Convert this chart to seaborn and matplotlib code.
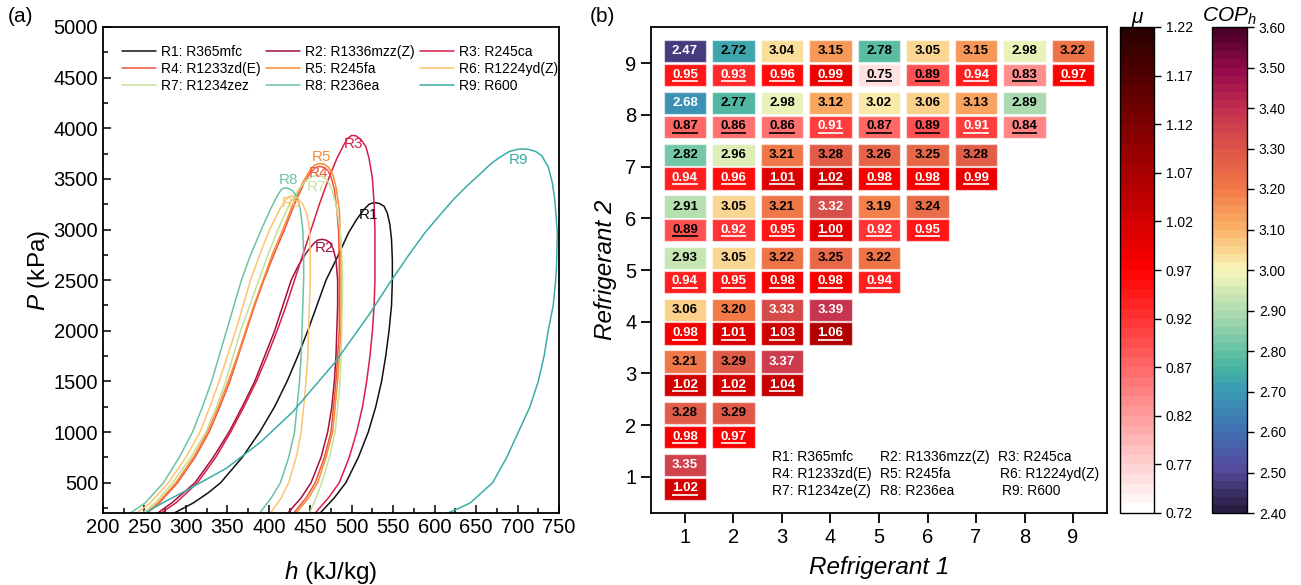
import numpy as np
import pandas as pd
import matplotlib
matplotlib.use("Agg")
import matplotlib.pyplot as plt
import seaborn as sns
from matplotlib.colors import LinearSegmentedColormap, Normalize
from matplotlib.cm import ScalarMappable
from matplotlib.ticker import MultipleLocator

# ---------------- saturation domes: enthalpy h (kJ/kg) vs pressure P (kPa) ----------------
h_r1 = [286, 309, 327, 342, 368, 389, 407, 422, 435, 447, 458, 469, 484, 496, 506, 515, 521, 527,
        533, 539, 543, 546, 548, 549, 549, 548, 545, 541, 536, 529, 520, 508, 493, 479, 462]
p_r1 = [200, 300, 400, 500, 750, 1000, 1250, 1500, 1750, 2000, 2250, 2500, 2750, 2965, 3100, 3200, 3250, 3266,
        3258, 3230, 3160, 3050, 2900, 2700, 2500, 2250, 2000, 1750, 1500, 1250, 1000, 750, 500, 350, 200]

h_r2 = [266, 283, 311, 333, 352, 368, 383, 395, 407, 417, 427, 436, 446, 454, 459, 464,
        469, 474, 478, 481, 483, 483, 482, 481, 479, 476, 471, 463, 451, 439, 423]
p_r2 = [200, 300, 500, 750, 1000, 1250, 1500, 1750, 2000, 2250, 2500, 2650, 2780, 2860, 2895, 2903,
        2895, 2870, 2800, 2700, 2500, 2250, 2000, 1750, 1500, 1250, 1000, 750, 500, 350, 200]

h_r3 = [270, 288, 314, 336, 354, 370, 385, 398, 410, 421, 431, 441, 451, 461, 472, 482, 490, 495, 500,
        505, 511, 517, 521, 525, 527, 528, 528, 527, 525, 522, 518, 513, 506, 497, 485, 472, 456]
p_r3 = [200, 300, 500, 750, 1000, 1250, 1500, 1750, 2000, 2250, 2500, 2750, 3000, 3250, 3500, 3700, 3830, 3900, 3930,
        3925, 3890, 3820, 3700, 3500, 3250, 3000, 2500, 2250, 2000, 1750, 1500, 1250, 1000, 750, 500, 350, 200]

h_r4 = [253, 268, 290, 311, 328, 341, 353, 363, 373, 383, 394, 406, 419, 431, 442, 450, 456, 461,
        466, 471, 475, 479, 482, 484, 485, 485, 483, 481, 478, 475, 467, 456, 445, 430]
p_r4 = [200, 300, 500, 750, 1000, 1250, 1500, 1750, 2000, 2250, 2500, 2750, 3000, 3250, 3450, 3560, 3610, 3623,
        3615, 3585, 3520, 3400, 3200, 3000, 2700, 2000, 1750, 1500, 1250, 1000, 750, 500, 350, 200]

h_r5 = [252, 266, 288, 309, 326, 339, 351, 362, 372, 382, 393, 404, 417, 429, 440, 449, 455, 461,
        467, 472, 477, 481, 485, 486, 487, 487, 485, 483, 480, 477, 469, 459, 448, 433]
p_r5 = [200, 300, 500, 750, 1000, 1250, 1500, 1750, 2000, 2250, 2500, 2750, 3000, 3250, 3450, 3580, 3635, 3651,
        3645, 3615, 3550, 3420, 3200, 3000, 2700, 2000, 1750, 1500, 1250, 1000, 750, 500, 350, 200]

h_r6 = [241, 257, 279, 300, 317, 329, 340, 350, 360, 369, 378, 389, 401, 412, 419, 424,
        429, 435, 441, 446, 449, 450, 450, 448, 447, 445, 442, 439, 433, 424, 415, 402]
p_r6 = [200, 300, 500, 750, 1000, 1250, 1500, 1750, 2000, 2250, 2500, 2750, 3000, 3180, 3280, 3325,
        3330, 3305, 3250, 3150, 3000, 2750, 2500, 2000, 1750, 1500, 1250, 1000, 750, 500, 350, 200]

h_r7 = [248, 263, 284, 306, 324, 337, 348, 357, 366, 377, 388, 399, 411, 425, 436, 446, 453, 458,
        465, 471, 476, 481, 486, 488, 489, 488, 487, 486, 483, 480, 473, 464, 457, 449]
p_r7 = [200, 300, 500, 750, 1000, 1250, 1500, 1750, 2000, 2250, 2500, 2750, 3000, 3250, 3400, 3490, 3525, 3532,
        3520, 3480, 3400, 3250, 3000, 2750, 2500, 2000, 1750, 1500, 1250, 1000, 750, 500, 350, 200]

h_r8 = [233, 251, 273, 292, 308, 320, 331, 340, 349, 358, 367, 378, 391, 402, 410, 415, 419,
        424, 429, 434, 438, 441, 442, 442, 440, 439, 437, 434, 431, 424, 414, 403, 389]
p_r8 = [200, 300, 500, 750, 1000, 1250, 1500, 1750, 2000, 2250, 2500, 2750, 3000, 3200, 3330, 3395, 3410,
        3405, 3380, 3320, 3200, 3000, 2750, 2500, 2000, 1750, 1500, 1250, 1000, 750, 500, 350, 200]

h_r9 = [251, 272, 300, 349, 390, 429, 455, 480, 501, 521, 548, 569, 588, 605, 622, 639, 655, 668, 679, 690, 700, 706,
        714, 722, 729, 737, 742, 745, 748, 747, 746, 743, 737, 732, 725, 715, 701, 687, 670, 643, 630, 616]
p_r9 = [200, 300, 420, 643, 900, 1200, 1450, 1690, 1930, 2160, 2500, 2750, 2965, 3130, 3290, 3430, 3550, 3650, 3715, 3770, 3792, 3796,
        3790, 3770, 3730, 3619, 3460, 3292, 2965, 2638, 2500, 2250, 2000, 1750, 1500, 1250, 1000, 750, 500, 300, 250, 200]

fluid_ids = ["R1", "R2", "R3", "R4", "R5", "R6", "R7", "R8", "R9"]
fluid_names = ["R365mfc", "R1336mzz(Z)", "R245ca", "R1233zd(E)", "R245fa",
               "R1224yd(Z)", "R1234zez", "R236ea", "R600"]

# ---------------- pair results: COP_h (upper) and mu (lower) ----------------
refrigerant_index = [1, 2, 3, 4, 5, 6, 7, 8, 9]

cop_row1 = [3.35]
cop_row2 = [3.28, 3.29]
cop_row3 = [3.21, 3.29, 3.37]
cop_row4 = [3.06, 3.20, 3.33, 3.39]
cop_row5 = [2.93, 3.05, 3.22, 3.25, 3.22]
cop_row6 = [2.91, 3.05, 3.21, 3.32, 3.19, 3.24]
cop_row7 = [2.82, 2.96, 3.21, 3.28, 3.26, 3.25, 3.28]
cop_row8 = [2.68, 2.77, 2.98, 3.12, 3.02, 3.06, 3.13, 2.89]
cop_row9 = [2.47, 2.72, 3.04, 3.15, 2.78, 3.05, 3.15, 2.98, 3.22]

mu_row1 = [1.02]
mu_row2 = [0.98, 0.97]
mu_row3 = [1.02, 1.02, 1.04]
mu_row4 = [0.98, 1.01, 1.03, 1.06]
mu_row5 = [0.94, 0.95, 0.98, 0.98, 0.94]
mu_row6 = [0.89, 0.92, 0.95, 1.00, 0.92, 0.95]
mu_row7 = [0.94, 0.96, 1.01, 1.02, 0.98, 0.98, 0.99]
mu_row8 = [0.87, 0.86, 0.86, 0.91, 0.87, 0.89, 0.91, 0.84]
mu_row9 = [0.95, 0.93, 0.96, 0.99, 0.75, 0.89, 0.94, 0.83, 0.97]

key_lines = [
    ["R1: R365mfc", "R4: R1233zd(E)", "R7: R1234ze(Z)"],
    ["R2: R1336mzz(Z)", "R5: R245fa", "R8: R236ea"],
    ["R3: R245ca", "R6: R1224yd(Z)", "R9: R600"],
]

# ---------------- style ----------------
sns.set_theme(style="ticks", rc={
    "axes.edgecolor": "black", "axes.linewidth": 1.3,
    "xtick.color": "black", "ytick.color": "black",
    "text.color": "black", "axes.labelcolor": "black",
})
plt.rcParams["font.family"] = ["Liberation Sans", "DejaVu Sans"]
plt.rcParams["mathtext.fontset"] = "custom"
plt.rcParams["mathtext.rm"] = "Liberation Sans"
plt.rcParams["mathtext.it"] = "Liberation Sans:italic"
plt.rcParams["mathtext.bf"] = "Liberation Sans:bold"

line_colors = ["#111111", "#a3123f", "#d81e48", "#f0553a", "#f98b37",
               "#fdc46e", "#c3e19a", "#6cc3a0", "#3aaca6"]

cop_cmap = LinearSegmentedColormap.from_list("cop", [
    (0.0000, "#281d40"), (0.0833, "#554a9c"), (0.1667, "#3f72b4"),
    (0.2500, "#3a9bb5"), (0.2917, "#45b3a0"), (0.3333, "#66c2a5"),
    (0.4167, "#b2ddb0"), (0.5000, "#f8f8ba"), (0.5833, "#fbb468"),
    (0.6667, "#f27a47"), (0.7500, "#de5648"), (0.8333, "#c4314f"),
    (0.9167, "#960b4b"), (1.0000, "#4a0028")])
mu_cmap = LinearSegmentedColormap.from_list("mu", [
    (0.0, "#ffffff"), (0.5, "#ff0000"), (1.0, "#2a0000")])
cop_norm = Normalize(2.40, 3.60)
mu_norm = Normalize(0.72, 1.22)

W, H = 1301, 585
fig = plt.figure(figsize=(W / 100, H / 100), dpi=100)

def frame(x0, x1, y_top, y_bot):
    return [x0 / W, 1 - y_bot / H, (x1 - x0) / W, (y_bot - y_top) / H]

ax_a = fig.add_axes(frame(103, 559, 27, 513))
ax_b = fig.add_axes(frame(651, 1107, 27, 513))
cax_mu = fig.add_axes(frame(1120, 1154, 27, 513))
cax_cop = fig.add_axes(frame(1212, 1247, 27, 513))

# ---------------- (a) P-h diagram ----------------
domes_h = [h_r1, h_r2, h_r3, h_r4, h_r5, h_r6, h_r7, h_r8, h_r9]
domes_p = [p_r1, p_r2, p_r3, p_r4, p_r5, p_r6, p_r7, p_r8, p_r9]
for fid, fname, h, p, col in zip(fluid_ids, fluid_names, domes_h, domes_p, line_colors):
    df = pd.DataFrame({"h": h, "P": p})
    sns.lineplot(data=df, x="h", y="P", sort=False, estimator=None,
                 color=col, lw=1.1, label=f"{fid}: {fname}", ax=ax_a)

label_spots = {"R1": (520, 3145), "R2": (467, 2818), "R3": (502, 3842),
               "R4": (460, 3560), "R5": (464, 3717), "R6": (427, 3259),
               "R7": (458, 3423), "R8": (424, 3488), "R9": (701, 3691)}
for fid, col in zip(fluid_ids, line_colors):
    hx, py = label_spots[fid]
    ax_a.text(hx, py, fid, color=col, fontsize=11, ha="center", va="center")

handles, labels = ax_a.get_legend_handles_labels()
order = [0, 3, 6, 1, 4, 7, 2, 5, 8]
ax_a.legend([handles[i] for i in order], [labels[i] for i in order], ncol=3,
            loc="upper left", bbox_to_anchor=(0.015, 0.988), frameon=False,
            fontsize=10, handlelength=2.4, handletextpad=0.4,
            columnspacing=0.4, labelspacing=0.2)

ax_a.set_xlim(200, 750)
ax_a.set_ylim(200, 5000)
ax_a.xaxis.set_major_locator(MultipleLocator(50))
ax_a.xaxis.set_minor_locator(MultipleLocator(25))
ax_a.yaxis.set_minor_locator(MultipleLocator(250))
ax_a.set_yticks(np.arange(500, 5001, 500))
ax_a.tick_params(which="both", direction="in", width=1.1, labelsize=14.5, top=False, right=False)
ax_a.tick_params(which="major", length=6)
ax_a.tick_params(which="minor", length=3.5)
for s in ax_a.spines.values():
    s.set_visible(True)
    s.set_linewidth(1.3)
ax_a.set_xlabel(r"$h$ (kJ/kg)", fontsize=17.5, labelpad=16)
ax_a.set_ylabel(r"$P$ (kPa)", fontsize=17.5, labelpad=1)
fig.text(8 / W, 1 - 17 / H, "(a)", fontsize=15, ha="left", va="center")

# ---------------- (b) pair map ----------------
cop_rows = [cop_row1, cop_row2, cop_row3, cop_row4, cop_row5, cop_row6, cop_row7, cop_row8, cop_row9]
mu_rows = [mu_row1, mu_row2, mu_row3, mu_row4, mu_row5, mu_row6, mu_row7, mu_row8, mu_row9]
cell_w, cell_h = 0.88, 0.43
edge = (1, 1, 1, 0.55)
for r, cop_vals, mu_vals in zip(refrigerant_index, cop_rows, mu_rows):
    cols = refrigerant_index[:len(cop_vals)]
    cop_arr = np.array(cop_vals)
    mu_arr = np.array(mu_vals)
    ax_b.bar(cols, cell_h, bottom=r + 0.015, width=cell_w,
             color=cop_cmap(cop_norm(cop_arr)), edgecolor=edge, linewidth=0.9)
    ax_b.bar(cols, cell_h, bottom=r - 0.445, width=cell_w,
             color=mu_cmap(mu_norm(mu_arr)), edgecolor=edge, linewidth=0.9)
    for c, cv, mv in zip(cols, cop_vals, mu_vals):
        ctext = "white" if (cv < 2.70 or cv >= 3.30) else "black"
        ax_b.text(c, r + 0.228, f"{cv:.2f}", color=ctext, fontsize=9.5,
                  fontweight="bold", ha="center", va="center")
        mtext = "black" if mv < 0.90 else "white"
        ax_b.text(c, r - 0.222, f"{mv:.2f}", color=mtext, fontsize=9.5,
                  fontweight="bold", ha="center", va="center")
        ax_b.plot([c - 0.265, c + 0.265], [r - 0.345, r - 0.345], color=mtext,
                  lw=1.2, solid_capstyle="butt")

for col_idx, (xf, lines) in enumerate(zip([0.265, 0.502, 0.762], key_lines)):
    for row_idx, txt in enumerate(lines):
        ax_b.text(xf + (0.004 * row_idx if col_idx == 2 else 0), 0.115 - 0.035 * row_idx, txt,
                  transform=ax_b.transAxes, fontsize=10, ha="left", va="center")

ax_b.set_xlim(0.3, 9.7)
ax_b.set_ylim(0.3, 9.7)
ax_b.set_xticks(refrigerant_index)
ax_b.set_yticks(refrigerant_index)
ax_b.tick_params(which="major", direction="out", length=7, width=1.3, labelsize=14.5)
for s in ax_b.spines.values():
    s.set_visible(True)
    s.set_linewidth(1.3)
ax_b.set_xlabel("Refrigerant 1", fontsize=17.5, fontstyle="italic", labelpad=7)
ax_b.set_ylabel("Refrigerant 2", fontsize=17.5, fontstyle="italic", labelpad=6)
fig.text(590 / W, 1 - 17 / H, "(b)", fontsize=15, ha="left", va="center")

# ---------------- colour bars ----------------
mu_ticks = np.round(np.arange(0.72, 1.2201, 0.05), 2)
cop_ticks = np.round(np.arange(2.40, 3.6001, 0.10), 2)
cb_mu = fig.colorbar(ScalarMappable(norm=mu_norm, cmap=mu_cmap.resampled(50)), cax=cax_mu)
cb_mu.set_ticks(mu_ticks)
cb_mu.ax.set_yticklabels([f"{v:.2f}" for v in mu_ticks])
cb_cop = fig.colorbar(ScalarMappable(norm=cop_norm, cmap=cop_cmap.resampled(60)), cax=cax_cop)
cb_cop.set_ticks(cop_ticks)
cb_cop.ax.set_yticklabels([f"{v:.2f}" for v in cop_ticks])
for cb in (cb_mu, cb_cop):
    cb.outline.set_linewidth(1.0)
    cb.ax.tick_params(direction="out", length=5, width=1, labelsize=10, right=True)
cax_mu.set_title("μ", fontsize=15, fontstyle="italic", pad=3)
cax_cop.set_title(r"$COP_h$", fontsize=15, pad=3)

fig.savefig("out.png", dpi=100)
